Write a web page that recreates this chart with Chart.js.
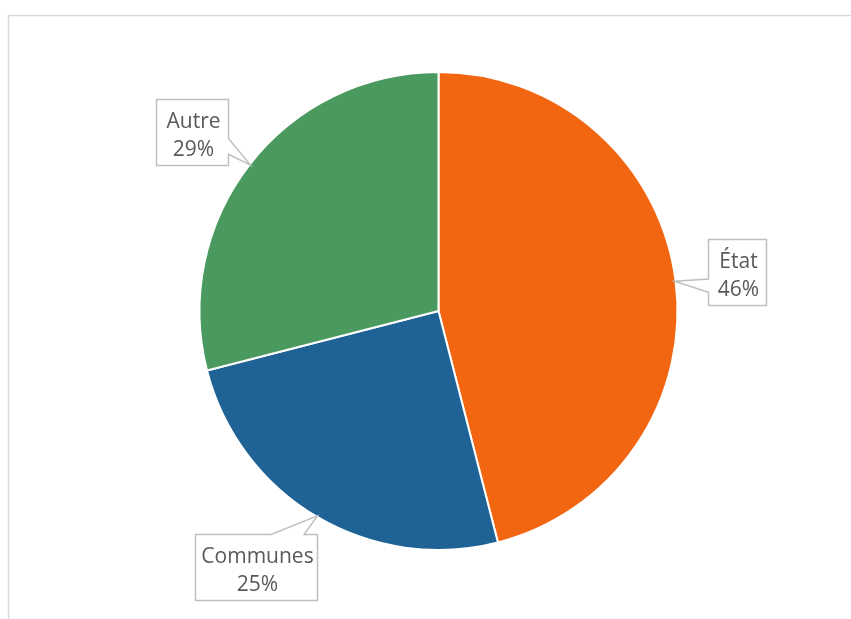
<!DOCTYPE html>
<html>
<head>
<meta charset="utf-8">
<script src="https://cdn.jsdelivr.net/npm/chart.js@4.4.0/dist/chart.umd.min.js"></script>
<style>
  html, body { margin: 0; padding: 0; background: #fff; overflow: hidden; }
  #wrap { position: relative; width: 851px; height: 619px; }
</style>
</head>
<body>
<div id="wrap"><canvas id="c" width="851" height="619"></canvas></div>
<script>
const categories = ['État', 'Communes', 'Autre'];
const shares = [46, 25, 29];
const sliceColors = ['#F26612', '#1F6295', '#4A9A5F'];

// Callout boxes: centre offset from the slice's rim mid-point, box size, the box side the
// pointer leaves from, and where the pointer base sits along that side (0..1).
const calloutLayout = [
  { dx: 62.5, dy: -9,  w: 58,  h: 66, side: 'left',  from: 0.60, to: 0.80 },
  { dx: -61,  dy: 51,  w: 122, h: 66, side: 'top',   from: 0.62, to: 0.89 },
  { dx: -58.5, dy: -33, w: 72, h: 66, side: 'right', from: 0.59, to: 0.83 }
];

const FONT = '21px "Open Sans", "DejaVu Sans", sans-serif';

const framePlugin = {
  id: 'frame',
  beforeDraw(chart) {
    const ctx = chart.ctx;
    ctx.save();
    ctx.strokeStyle = '#d9d9d9';
    ctx.lineWidth = 1.5;
    ctx.beginPath();
    ctx.moveTo(8.5, 619);
    ctx.lineTo(8.5, 15.5);
    ctx.lineTo(851, 15.5);
    ctx.stroke();
    ctx.restore();
  }
};

const calloutPlugin = {
  id: 'callouts',
  afterDatasetsDraw(chart) {
    const ctx = chart.ctx;
    const meta = chart.getDatasetMeta(0);
    const values = chart.data.datasets[0].data;
    const total = values.reduce((a, b) => a + b, 0);
    ctx.save();
    ctx.font = FONT;
    meta.data.forEach((arc, i) => {
      const p = arc.getProps(['x', 'y', 'startAngle', 'endAngle', 'outerRadius'], true);
      const mid = (p.startAngle + p.endAngle) / 2;
      const r = p.outerRadius - 1;
      const tx = p.x + Math.cos(mid) * r;
      const ty = p.y + Math.sin(mid) * r;
      const lay = calloutLayout[i];
      const lines = [chart.data.labels[i], Math.round(values[i] / total * 100) + '%'];
      const w = lay.w, h = lay.h;
      const cx = tx + lay.dx, cy = ty + lay.dy;
      const L = Math.round(cx - w / 2) + 0.5, T = Math.round(cy - h / 2) + 0.5;
      const R = L + w, B = T + h;
      const pts = [[L, T]];
      if (lay.side === 'top') pts.push([L + lay.from * w, T], [tx, ty], [L + lay.to * w, T]);
      pts.push([R, T]);
      if (lay.side === 'right') pts.push([R, T + lay.from * h], [tx, ty], [R, T + lay.to * h]);
      pts.push([R, B]);
      if (lay.side === 'bottom') pts.push([L + lay.to * w, B], [tx, ty], [L + lay.from * w, B]);
      pts.push([L, B]);
      if (lay.side === 'left') pts.push([L, T + lay.to * h], [tx, ty], [L, T + lay.from * h]);
      ctx.beginPath();
      pts.forEach(([x, y], k) => k ? ctx.lineTo(x, y) : ctx.moveTo(x, y));
      ctx.closePath();
      ctx.fillStyle = '#ffffff';
      ctx.fill();
      ctx.strokeStyle = '#bfbfbf';
      ctx.lineWidth = 1.5;
      ctx.stroke();
      ctx.fillStyle = '#595959';
      ctx.textAlign = 'center';
      ctx.textBaseline = 'middle';
      const mx = (L + R) / 2 + 1, my = (T + B) / 2;
      ctx.fillText(lines[0], mx, my - 10);
      ctx.fillText(lines[1], mx, my + 18);
    });
    ctx.restore();
  }
};

function draw() {
  new Chart(document.getElementById('c'), {
    type: 'pie',
    data: {
      labels: categories,
      datasets: [{
        data: shares,
        backgroundColor: sliceColors,
        borderColor: '#ffffff',
        borderWidth: 2
      }]
    },
    options: {
      responsive: false,
      animation: false,
      layout: { padding: { left: 198, right: 172, top: 71, bottom: 68 } },
      plugins: {
        legend: { display: false },
        tooltip: { enabled: false }
      }
    },
    plugins: [framePlugin, calloutPlugin]
  });
}

if (document.fonts && document.fonts.load) {
  document.fonts.load(FONT).then(draw, draw);
} else {
  draw();
}
</script>
</body>
</html>
